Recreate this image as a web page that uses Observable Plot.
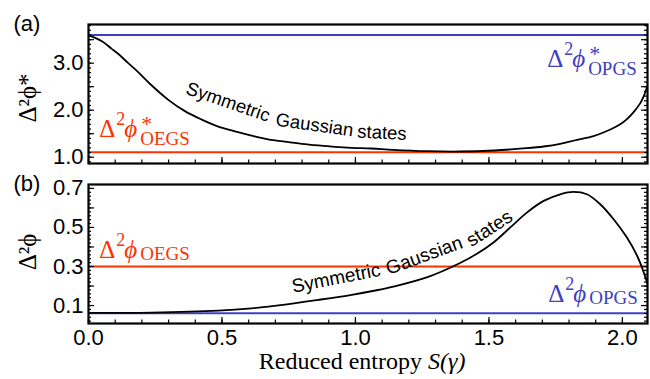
<!DOCTYPE html>
<html><head><meta charset="utf-8">
<script src="https://cdn.jsdelivr.net/npm/d3@7"></script>
<script src="https://cdn.jsdelivr.net/npm/@observablehq/plot@0.6"></script>
<style>
body{margin:0;background:#fff;}
#chart{width:650px;height:379px;}
#chart svg{display:block;}
</style></head><body><div id="chart"></div>
<script>
// ---- data ----
const entropyA = [0, 0.049, 0.086, 0.111, 0.149, 0.186, 0.236, 0.299, 0.361, 0.424, 0.486, 0.549, 0.611, 0.673, 0.736, 0.799, 0.861, 0.924, 0.986, 1.06, 1.14, 1.27, 1.39, 1.52, 1.64, 1.705, 1.767, 1.83, 1.892, 1.955, 1.992, 2.017, 2.042, 2.067, 2.08, 2.094];
const deltaA   = [3.59, 3.47, 3.31, 3.2, 3.0, 2.81, 2.53, 2.22, 1.98, 1.80, 1.65, 1.55, 1.46, 1.38, 1.33, 1.285, 1.25, 1.22, 1.2, 1.185, 1.157, 1.128, 1.121, 1.143, 1.191, 1.228, 1.285, 1.37, 1.45, 1.59, 1.70, 1.81, 1.96, 2.15, 2.30, 2.52];
const entropyB = [0, 0.236, 0.486, 0.611, 0.736, 0.861, 0.986, 1.074, 1.142, 1.267, 1.392, 1.455, 1.517, 1.58, 1.642, 1.705, 1.767, 1.817, 1.867, 1.917, 1.967, 2.017, 2.055, 2.08, 2.094];
const deltaB   = [0.062, 0.064, 0.074, 0.086, 0.105, 0.129, 0.155, 0.177, 0.197, 0.244, 0.318, 0.365, 0.423, 0.5, 0.576, 0.636, 0.67, 0.682, 0.67, 0.619, 0.542, 0.448, 0.355, 0.27, 0.21];
const opgsStar = 3.6, oegsStar = 1.106;   // panel (a) bounds
const oegs = 0.30, opgs = 0.061;          // panel (b) bounds
const xTicks = [0, 0.5, 1, 1.5, 2];
const yTicksA = [1, 2, 3];
const yTicksB = [0.1, 0.3, 0.5, 0.7];
const subNames = ["OEGS", "OPGS"];
const curveWords = ["Symmetric", "Gaussian", "states"];
const xTitle = ["Reduced entropy", "S(γ)"];

// ---- layout ----
const W = 650, ML = 88, MR = 3;
const plotW = W - ML - MR, plotH = 139;
const RED = "#ff3300", BLUE = "#4040bf";
const SANS = "Liberation Sans";
const SERIF = "Liberation Serif";
const xDomain = [0, 2.094];
const fmt = d3.format(".1f");

const rows = (xs, ys) => xs.map((x, i) => ({x, y: ys[i]}));

function frameTicks(yMinor, yMajor) {
  const s = {stroke: "#000", strokeWidth: 1.2};
  const xMinor = d3.range(0, 21).map(i => i / 10);
  const xMajor = d3.range(0, 5).map(i => i / 2);
  return [
    Plot.tickX(xMinor, {x: d => d, insetTop: plotH - 3.5, ...s}),
    Plot.tickX(xMajor, {x: d => d, insetTop: plotH - 6, ...s}),
    Plot.tickY(yMinor, {y: d => d, insetRight: plotW - 3, ...s}),
    Plot.tickY(yMinor, {y: d => d, insetLeft: plotW - 3, ...s}),
    Plot.tickY(yMajor, {y: d => d, insetRight: plotW - 6, ...s}),
    Plot.tickY(yMajor, {y: d => d, insetLeft: plotW - 6, ...s})
  ];
}

function yLabels(ticks) {
  return Plot.text(ticks, {y: d => d, text: d => fmt(d), frameAnchor: "left", dx: -5,
    textAnchor: "end", lineAnchor: "middle", fontSize: 22, fontFamily: SANS, fill: "#000"});
}

function phiLabel(x, y, sub, star, color, subDy) {
  const at = {x: [x], y: [y], fill: color, fontFamily: SERIF, textAnchor: "start", lineAnchor: "bottom"};
  const m = [
    Plot.text([0], {...at, text: ["Δ"], fontSize: 25}),
    Plot.text([0], {...at, text: ["2"], fontSize: 18, dx: 17, dy: -12}),
    Plot.text([0], {...at, text: ["ϕ"], fontSize: 25, fontStyle: "italic", dx: 25}),
    Plot.text([0], {...at, text: [sub], fontSize: 19, dx: 41, dy: subDy})
  ];
  if (star) m.push(Plot.text([0], {...at, text: ["*"], fontSize: 22, dx: 42, dy: -6}));
  return m;
}

function words(pos, size) {
  return curveWords.map((w, i) => Plot.text([0], {
    x: [pos[i][0]], y: [pos[i][1]], text: [w], rotate: pos[i][2],
    textAnchor: "start", lineAnchor: "bottom", fontSize: size, fontFamily: SANS, fill: "#000"
  }));
}

// ---- panel (a) ----
const yDomA = [0.866, 3.823];
const plotA = Plot.plot({
  width: W, height: 170,
  marginLeft: ML, marginRight: MR, marginTop: 24, marginBottom: 7,
  style: {fontFamily: SANS, background: "#fff", overflow: "visible"},
  x: {domain: xDomain, axis: null},
  y: {domain: yDomA, axis: null},
  marks: [
    Plot.ruleY([opgsStar], {stroke: BLUE, strokeWidth: 2}),
    Plot.ruleY([oegsStar], {stroke: RED, strokeWidth: 2}),
    Plot.line(rows(entropyA, deltaA), {x: "x", y: "y", stroke: "#000", strokeWidth: 1.8, curve: "catmull-rom", clip: true}),
    ...words([[0.361, 2.355, 19], [0.699, 1.674, 8], [1.006, 1.419, 3]], 18.5),
    ...phiLabel(0.04, 1.42, subNames[0], true, RED, 8),
    ...phiLabel(1.718, 2.915, subNames[1], true, BLUE, 8),
    yLabels(yTicksA),
    Plot.text(["Δ²ϕ*"], {text: d => d, frameAnchor: "left", rotate: -90, dx: -61, dy: 4, fontSize: 25, fontFamily: SERIF, textAnchor: "middle", lineAnchor: "middle"}),
    Plot.text(["(a)"], {text: d => d, frameAnchor: "top-left", dx: -75, dy: 6, fontSize: 22, fontFamily: SANS, textAnchor: "start", lineAnchor: "bottom"}),
    ...frameTicks(d3.range(9, 39).map(i => i / 10), d3.range(2, 8).map(i => i / 2)),
    Plot.frame({stroke: "#000", strokeWidth: 2.2})
  ]
});

// ---- panel (b) ----
const yDomB = [0.008, 0.72];
const plotB = Plot.plot({
  width: W, height: 209,
  marginLeft: ML, marginRight: MR, marginTop: 14, marginBottom: 56,
  style: {fontFamily: SANS, background: "#fff", overflow: "visible"},
  x: {domain: xDomain, axis: null},
  y: {domain: yDomB, axis: null},
  marks: [
    Plot.ruleY([oegs], {stroke: RED, strokeWidth: 2}),
    Plot.ruleY([opgs], {stroke: BLUE, strokeWidth: 2}),
    Plot.line(rows(entropyB, deltaB), {x: "x", y: "y", stroke: "#000", strokeWidth: 1.8, curve: "catmull-rom", clip: true}),
    ...words([[0.767, 0.165, -11], [1.124, 0.256, -20], [1.435, 0.398, -33]], 19),
    ...phiLabel(0.04, 0.343, subNames[0], false, RED, 2),
    ...phiLabel(1.722, 0.117, subNames[1], false, BLUE, 2),
    yLabels(yTicksB),
    Plot.text(xTicks, {x: d => d, text: d => fmt(d), frameAnchor: "bottom", dy: 6, textAnchor: "middle", lineAnchor: "top", fontSize: 22, fontFamily: SANS, fill: "#000"}),
    Plot.text([xTitle[0]], {text: d => d, frameAnchor: "bottom", dx: 54, dy: 45, fontSize: 24, fontFamily: SERIF, textAnchor: "end", lineAnchor: "bottom"}),
    Plot.text([xTitle[1]], {text: d => d, frameAnchor: "bottom", dx: 60, dy: 45, fontSize: 24, fontFamily: SERIF, fontStyle: "italic", textAnchor: "start", lineAnchor: "bottom"}),
    Plot.text(["Δ²ϕ"], {text: d => d, frameAnchor: "left", rotate: -90, dx: -61, dy: -2, fontSize: 25, fontFamily: SERIF, textAnchor: "middle", lineAnchor: "middle"}),
    Plot.text(["(b)"], {text: d => d, frameAnchor: "top-left", dx: -75, dy: 6, fontSize: 22, fontFamily: SANS, textAnchor: "start", lineAnchor: "bottom"}),
    ...frameTicks(d3.range(1, 36).map(i => i / 50), d3.range(1, 8).map(i => i / 10)),
    Plot.frame({stroke: "#000", strokeWidth: 2.2})
  ]
});

document.getElementById("chart").append(plotA, plotB);
</script></body></html>
